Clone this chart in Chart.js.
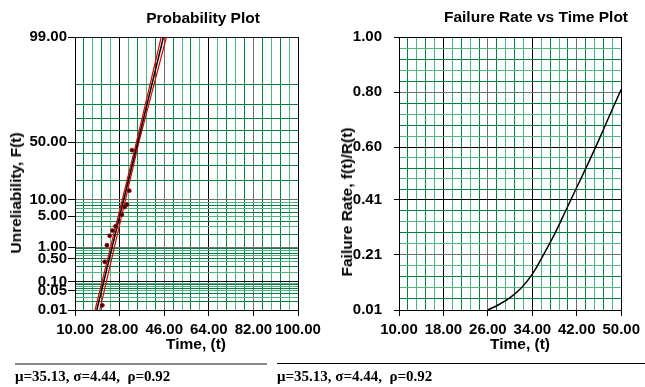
<!DOCTYPE html>
<html>
<head>
<meta charset="utf-8">
<script src="https://cdn.jsdelivr.net/npm/chart.js@4.4.1/dist/chart.umd.min.js"></script>
<style>
  html, body { margin: 0; padding: 0; background: #fff; }
  #page { position: relative; width: 645px; height: 387px; overflow: hidden; font-family: "Liberation Sans", Arial, sans-serif; color: #000; }
  canvas { position: absolute; top: 0; }
  #probChart { left: 0; }
  #rateChart { left: 330px; }
  .title, .xtitle { position: absolute; font-weight: bold; font-size: 15.5px; line-height: 16px; white-space: nowrap; transform: translateX(-50%); }
  .ytitle { position: absolute; font-weight: bold; font-size: 15.5px; line-height: 16px; white-space: nowrap; transform: translate(-50%, -50%) rotate(-90deg); }
  .rule { position: absolute; top: 363px; height: 0; }
  .stats { position: absolute; top: 369px; font: bold 15px/15px "Liberation Serif", "Times New Roman", serif; white-space: pre; }
</style>
</head>
<body>
<div id="page">
  <canvas id="probChart" width="330" height="345"></canvas>
  <canvas id="rateChart" width="315" height="345"></canvas>

  <div class="title" style="left:203px; top:10px;">Probability Plot</div>
  <div class="title" style="left:536px; top:9px;">Failure Rate vs Time Plot</div>
  <div class="xtitle" style="left:196px; top:336px;">Time, (t)</div>
  <div class="xtitle" style="left:520px; top:336px;">Time, (t)</div>
  <div class="ytitle" style="left:16px; top:193px;">Unreliability, F(t)</div>
  <div class="ytitle" style="left:347px; top:202px;">Failure Rate, f(t)/R(t)</div>

  <div class="rule" style="left:15px; width:252px; border-top:2px solid #8a8a8a;"></div>
  <div class="rule" style="left:277px; width:368px; border-top:1px solid #000;"></div>
  <div class="stats" style="left:15px;">μ=35.13, σ=4.44,  ρ=0.92</div>
  <div class="stats" style="left:277px;">μ=35.13, σ=4.44,  ρ=0.92</div>
</div>

<script>
// failure times and their unreliability (%)
const failTimes = [21.0, 22.0, 22.9, 24.0, 25.1, 26.4, 28.9, 30.0, 31.0, 31.9, 33.0];
const failUnrel = [0.015, 0.4, 1.12, 1.9, 2.5, 3.1, 5.4, 7.5, 8.3, 14.1, 42.9];

// fitted line and confidence bounds
const fitTimes = [18.8, 45.7];
const fitUnrel = [0.01, 99];
const boundUnrel = [0.01, 50, 99];
const lowerTimes = [18.1, 34.8, 44.8];
const upperTimes = [20.0, 35.8, 46.9];

// failure rate curve
const hazTimes = [26, 28, 30, 32, 34, 36, 38, 40, 42, 44, 46, 48, 50];
const hazRates = [0.01, 0.03, 0.055, 0.09, 0.14, 0.21, 0.285, 0.37, 0.455, 0.54, 0.628, 0.72, 0.81];

// tick labels
const probLabels = [0.01, 0.05, 0.1, 0.5, 1, 5, 10, 50, 99];
const probTimeLabels = [10, 28, 46, 64, 82, 100];
const rateTimeLabels = [10, 18, 26, 34, 42, 50];
const rateLabels = [0.01, 0.21, 0.41, 0.60, 0.80, 1.00];

const DARK_GREEN = '#008040';
const LIGHT_GREEN = '#52b483';
const GRAY = '#707070';
const tickFont = { family: "'Liberation Sans', Arial, sans-serif", size: 15, weight: 'bold' };

function subdivide(majors, parts) {
  const out = [];
  for (let i = 0; i < majors.length - 1; i++) {
    for (let k = 0; k < parts; k++) out.push(majors[i] + (majors[i + 1] - majors[i]) * k / parts);
  }
  out.push(majors[majors.length - 1]);
  return out;
}

const probGrid = [];
[0.01, 0.1, 1, 10].forEach(dec => {
  for (let m = 1; m <= 9; m++) probGrid.push(+(dec * m).toPrecision(6));
});
probGrid.push(99);

function pairs(xs, ys) {
  return xs.map((x, i) => ({ x: x, y: ys[i] }));
}

// inverse of the standard normal cdf (Acklam)
function probit(p) {
  const a = [-39.69683028665376, 220.9460984245205, -275.9285104469687, 138.3577518672690, -30.66479806614716, 2.506628277459239];
  const b = [-54.47609879822406, 161.5858368580409, -155.6989798598866, 66.80131188771972, -13.28068155288572];
  const c = [-0.007784894002430293, -0.3223964580411365, -2.400758277161838, -2.549732539343734, 4.374664141464968, 2.938163982698783];
  const d = [0.007784695709041462, 0.3224671290700398, 2.445134137142996, 3.754408661907416];
  const tail = q => (((((c[0] * q + c[1]) * q + c[2]) * q + c[3]) * q + c[4]) * q + c[5]) /
    ((((d[0] * q + d[1]) * q + d[2]) * q + d[3]) * q + 1);
  if (p < 0.02425) return tail(Math.sqrt(-2 * Math.log(p)));
  if (p > 1 - 0.02425) return -tail(Math.sqrt(-2 * Math.log(1 - p)));
  const q = p - 0.5, r = q * q;
  return (((((a[0] * r + a[1]) * r + a[2]) * r + a[3]) * r + a[4]) * r + a[5]) * q /
    (((((b[0] * r + b[1]) * r + b[2]) * r + b[3]) * r + b[4]) * r + 1);
}

function normCdf(z) {
  const t = 1 / (1 + 0.3275911 * Math.abs(z) / Math.SQRT2);
  const y = 1 - (((((1.061405429 * t - 1.453152027) * t) + 1.421413741) * t - 0.284496736) * t + 0.254829592) * t * Math.exp(-z * z / 2);
  return z >= 0 ? (1 + y) / 2 : (1 - y) / 2;
}

// normal probability axis, values in percent
class ProbitScale extends Chart.Scale {
  static id = 'probit';
  static defaults = {};
  determineDataLimits() {
    this.min = this.options.min;
    this.max = this.options.max;
  }
  buildTicks() {
    return probGrid.map(v => ({ value: v }));
  }
  configure() {
    super.configure();
    this._zMin = probit(this.min / 100);
    this._zMax = probit(this.max / 100);
  }
  getLabelForValue(v) {
    return v.toFixed(2);
  }
  getPixelForValue(v) {
    const z = probit(v / 100);
    return this.getPixelForDecimal((z - this._zMin) / (this._zMax - this._zMin));
  }
  getValueForPixel(px) {
    const z = this._zMin + this.getDecimalForPixel(px) * (this._zMax - this._zMin);
    return 100 * normCdf(z);
  }
}
Chart.register(ProbitScale);

function minorColor(i) {
  return i % 2 ? DARK_GREEN : LIGHT_GREEN;
}

new Chart(document.getElementById('probChart'), {
  type: 'scatter',
  data: {
    datasets: [
      {
        data: pairs(failTimes, failUnrel),
        pointRadius: 2,
        backgroundColor: '#300',
        borderColor: '#a00',
        borderWidth: 0.8
      },
      {
        data: pairs(fitTimes, fitUnrel),
        showLine: true,
        pointRadius: 0,
        borderColor: '#000',
        borderWidth: 1.5
      },
      {
        data: pairs(lowerTimes, boundUnrel),
        showLine: true,
        pointRadius: 0,
        borderColor: '#e00000',
        borderWidth: 1.2
      },
      {
        data: pairs(upperTimes, boundUnrel),
        showLine: true,
        pointRadius: 0,
        borderColor: '#e00000',
        borderWidth: 1.2
      }
    ]
  },
  options: {
    responsive: false,
    animation: false,
    events: [],
    layout: { padding: { top: 37, right: 32, left: 0, bottom: 0 } },
    plugins: { legend: { display: false }, tooltip: { enabled: false } },
    scales: {
      x: {
        type: 'linear',
        min: 10,
        max: 100,
        afterBuildTicks: s => { s.ticks = subdivide(probTimeLabels, 5).map(v => ({ value: v })); },
        afterFit: s => { s.height = 35; },
        ticks: {
          autoSkip: false, maxRotation: 0, minRotation: 0, padding: 5,
          color: '#000', font: tickFont,
          callback: (v, i) => i % 5 === 0 ? v.toFixed(2) : ''
        },
        grid: {
          lineWidth: 1,
          tickLength: 6,
          color: ctx => {
            const i = ctx.index;
            if (i % 5 === 0) return (i / 5) % 2 ? '#000' : GRAY;
            return minorColor(i);
          },
          tickColor: ctx => ctx.index % 5 === 0 ? '#000' : 'rgba(0,0,0,0)'
        },
        border: { color: '#000', width: 1 }
      },
      y: {
        type: 'probit',
        min: 0.01,
        max: 99,
        afterFit: s => { s.width = 75; },
        ticks: {
          autoSkip: false, padding: 1,
          color: '#000', font: tickFont,
          callback: v => probLabels.includes(v) ? v.toFixed(2) : ''
        },
        grid: {
          lineWidth: 1,
          tickLength: 7,
          color: ctx => {
            const v = ctx.tick.value;
            const i = ctx.index;
            if (v === 99 || v === 0.01 || v === 0.1) return '#111';
            if (v === 1 || v === 10) return GRAY;
            if (v > 10) return DARK_GREEN;
            return minorColor(i);
          },
          tickColor: ctx => probLabels.includes(ctx.tick.value) ? '#000' : 'rgba(0,0,0,0)'
        },
        border: { color: '#000', width: 1 }
      }
    }
  }
});

const rateMajorColors = ['#000', GRAY, '#000', '#000', GRAY, '#000'];

new Chart(document.getElementById('rateChart'), {
  type: 'line',
  data: {
    datasets: [{
      data: pairs(hazTimes, hazRates),
      pointRadius: 0,
      borderColor: '#000',
      borderWidth: 1.5,
      tension: 0.4,
      fill: false
    }]
  },
  options: {
    responsive: false,
    animation: false,
    events: [],
    layout: { padding: { top: 37, right: 23, left: 0, bottom: 0 } },
    plugins: { legend: { display: false }, tooltip: { enabled: false } },
    scales: {
      x: {
        type: 'linear',
        min: 10,
        max: 50,
        afterBuildTicks: s => { s.ticks = subdivide(rateTimeLabels, 5).map(v => ({ value: v })); },
        afterFit: s => { s.height = 35; },
        ticks: {
          autoSkip: false, maxRotation: 0, minRotation: 0, padding: 5,
          color: '#000', font: tickFont,
          callback: (v, i) => i % 5 === 0 ? v.toFixed(2) : ''
        },
        grid: {
          lineWidth: 1,
          tickLength: 6,
          color: ctx => {
            const i = ctx.index;
            if (i % 5 === 0) return (i / 5) % 2 ? '#000' : GRAY;
            return minorColor(i);
          },
          tickColor: ctx => ctx.index % 5 === 0 ? '#000' : 'rgba(0,0,0,0)'
        },
        border: { color: '#000', width: 1 }
      },
      y: {
        type: 'linear',
        min: 0.01,
        max: 1.0,
        afterBuildTicks: s => { s.ticks = subdivide(rateLabels, 5).map(v => ({ value: v })); },
        afterFit: s => { s.width = 69; },
        ticks: {
          autoSkip: false, padding: 12,
          color: '#000', font: tickFont,
          callback: (v, i) => i % 5 === 0 ? v.toFixed(2) : ''
        },
        grid: {
          lineWidth: 1,
          tickLength: 5,
          color: ctx => {
            const i = ctx.index;
            if (i % 5 === 0) return rateMajorColors[i / 5];
            return minorColor(i);
          },
          tickColor: ctx => ctx.index % 5 === 0 ? '#000' : 'rgba(0,0,0,0)'
        },
        border: { color: '#000', width: 1 }
      }
    }
  }
});
</script>
</body>
</html>
